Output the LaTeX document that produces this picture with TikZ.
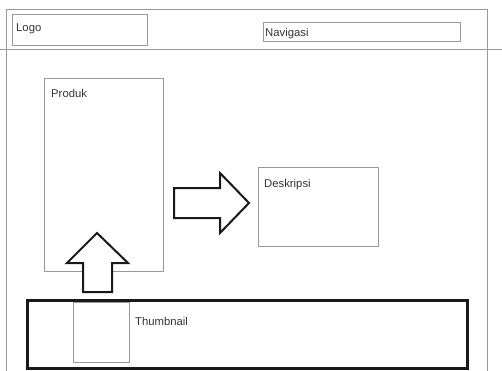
\documentclass[tikz,border=0pt]{standalone}
\usepackage{fontspec}
\setmainfont{Liberation Sans}
\usetikzlibrary{calc}

\tikzset{
  box/.style={draw=black!40, line width=0.8pt, anchor=north west, inner sep=0pt},
  lbl/.style={anchor=base west, font=\fontsize{11.3}{12}\selectfont, text=black!80, inner sep=0pt},
  blockarrow/.style={draw=black!90, line width=2pt, fill=white, line join=miter}
}

\begin{document}
\begin{tikzpicture}[x=1pt, y=-1pt]
    \useasboundingbox (0,0) rectangle (502,371);

    % page frame
    \draw[black!40, line width=0.8pt] (6,371) -- (6,9) -- (487,9) -- (487,371);
    \draw[black!40, line width=0.8pt] (0,49) -- (502,49);

    % header
    \node (logo) [box, minimum width=135pt, minimum height=31pt] at (12,14) {};
    \node [lbl] at (16,32) {Logo};
    \node (nav) [box, minimum width=197pt, minimum height=19pt] at (263,22) {};
    \node [lbl] at (265,37) {Navigasi};

    % content
    \node (produk) [box, minimum width=119pt, minimum height=193pt] at (44,78) {};
    \node [lbl] at (51,98) {Produk};
    \node (deskripsi) [box, minimum width=120pt, minimum height=79pt] at (258,167) {};
    \node [lbl] at (264,187) {Deskripsi};

    % thumbnail bar
    \node (bar) [draw=black!90, line width=3pt, anchor=north west, minimum width=440pt, minimum height=68pt, inner sep=0pt] at (26,299) {};
    \node (thumb) [box, minimum width=56pt, minimum height=60pt] at (73,302) {};
    \node [lbl] at (135,325) {Thumbnail};

    % arrows
    \draw[blockarrow] (174,188) -- (220,188) -- (220,173) -- (249,203) -- (220,233)
        -- (220,218) -- (174,218) -- cycle;
    \draw[blockarrow] (83,292) -- (83,263) -- (67,263) -- (97,233) -- (128,263)
        -- (112,263) -- (112,292) -- cycle;
  \end{tikzpicture}
\end{document}
